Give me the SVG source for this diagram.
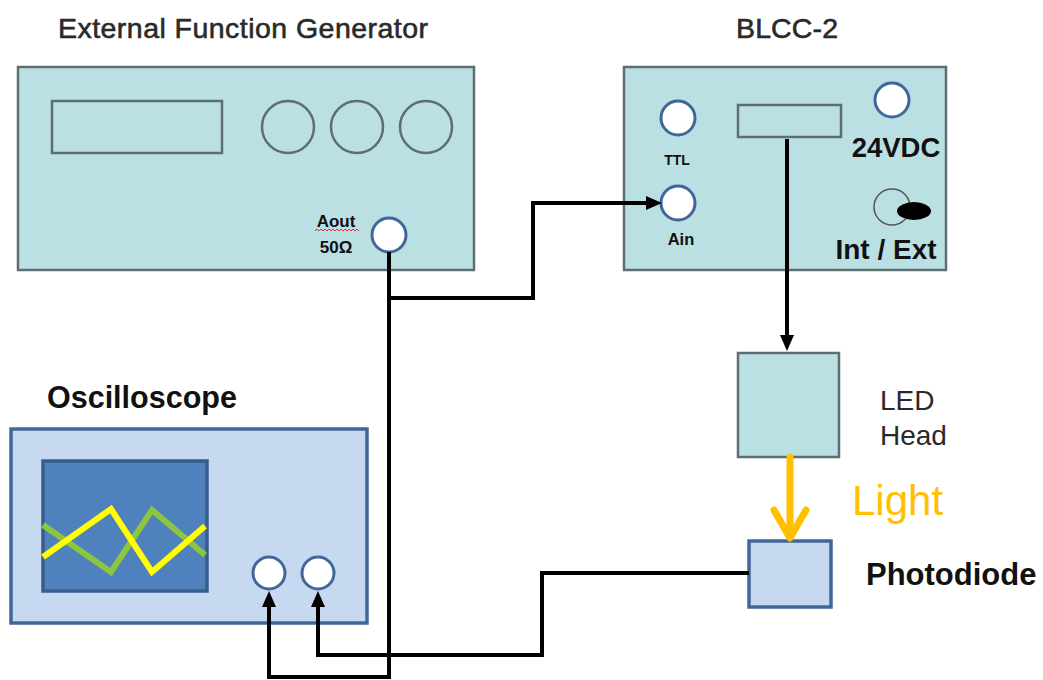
<svg xmlns="http://www.w3.org/2000/svg" width="1043" height="680" viewBox="0 0 1043 680">
<style>
.panel{fill:#BBE0E3;stroke:#5E6E70;stroke-width:2.5}
.knob{fill:none;stroke:#5E6E70;stroke-width:2.5}
.port{fill:#fff;stroke:#41679A;stroke-width:3}
.blue{fill:#C6D9F0;stroke:#41679A;stroke-width:3.5}
.wire{fill:none;stroke:#000;stroke-width:4;stroke-linejoin:miter}
.t{font-family:"Liberation Sans",Arial,sans-serif;fill:#2a2a2a}
.h{stroke:#2a2a2a;stroke-width:0.6}
.b{font-family:"Liberation Sans",Arial,sans-serif;font-weight:bold;fill:#111}
</style>
<defs>
<marker id="ah" viewBox="0 0 16 14" refX="6" refY="7" markerWidth="16" markerHeight="14" markerUnits="userSpaceOnUse" orient="auto">
<path d="M0,0 L16,7 L0,14 z" fill="#000"/>
</marker>
</defs>
<rect width="1043" height="680" fill="#fff"/>

<g id="function-generator">
<text class="t h" x="58" y="38" font-size="28.5" textLength="370">External Function Generator</text>
<rect class="panel" x="18" y="67" width="456" height="203"/>
<rect class="knob" x="52" y="101" width="170" height="52"/>
<circle class="knob" cx="288" cy="127" r="26"/>
<circle class="knob" cx="357" cy="127" r="26"/>
<circle class="knob" cx="426" cy="127" r="26"/>
<text class="b" x="336" y="227" font-size="17" text-anchor="middle">Aout</text>
<polyline points="315,231 317,229 319,231 321,229 323,231 325,229 327,231 329,229 331,231 333,229 335,231 337,229 339,231 341,229 343,231 345,229 347,231 349,229 351,231 353,229 355,231 357,229 359,231" fill="none" stroke="#E03030" stroke-width="1"/>
<text class="b" x="336" y="253" font-size="17" text-anchor="middle">50Ω</text>
<circle class="port" cx="389" cy="235" r="17"/>
</g>

<g id="blcc-2">
<text class="t h" x="736" y="38" font-size="28.5" textLength="102">BLCC-2</text>
<rect class="panel" x="624" y="67" width="322" height="203"/>
<circle class="port" cx="678" cy="118" r="17"/>
<text class="b" x="677" y="165" font-size="14" text-anchor="middle">TTL</text>
<circle class="port" cx="678" cy="203" r="17"/>
<text class="b" x="681" y="245" font-size="16.5" text-anchor="middle">Ain</text>
<rect class="knob" x="738" y="105" width="103" height="32" stroke-width="2"/>
<circle class="port" cx="892" cy="100" r="17"/>
<text class="b" x="896" y="157" font-size="27.5" text-anchor="middle">24VDC</text>
<circle cx="892" cy="207" r="18" fill="none" stroke="#555" stroke-width="1.5"/>
<ellipse cx="914" cy="211" rx="17" ry="9" fill="#000"/>
<text class="b" x="886" y="259" font-size="28" text-anchor="middle">Int / Ext</text>
</g>

<g id="led-head">
<rect class="panel" x="738" y="353" width="101" height="104"/>
<text class="t" x="880" y="410" font-size="28">LED</text>
<text class="t" x="880" y="445" font-size="28">Head</text>
</g>

<g id="photodiode">
<rect class="blue" x="749" y="541" width="82" height="66"/>
<text class="b" x="866" y="585" font-size="31">Photodiode</text>
</g>

<g id="oscilloscope">
<text class="b" x="47" y="408" font-size="30.5">Oscilloscope</text>
<rect class="blue" x="11" y="429" width="356" height="194"/>
<rect x="43" y="461" width="164" height="130" fill="#4F81BD" stroke="#385D8A" stroke-width="3.5"/>
<polyline points="43,525 111,572 152,510 205,555" fill="none" stroke="#8CC63F" stroke-width="6"/>
<polyline points="43,557 111,509 152,572 205,526" fill="none" stroke="#FFFF00" stroke-width="6"/>
<circle class="port" cx="269" cy="573" r="16"/>
<circle class="port" cx="318" cy="573" r="16"/>
</g>

<g id="connectors">
<path class="wire" d="M389,252 V298 H533 V203 H652" marker-end="url(#ah)"/>
<path class="wire" d="M389,298 V677 H269 V601" marker-end="url(#ah)"/>
<path class="wire" d="M749,573 H542 V655 H318 V601" marker-end="url(#ah)"/>
<path class="wire" d="M787,139 V341" marker-end="url(#ah)"/>
<path d="M790,457 V536 M774,510 L790,538 L806,510" fill="none" stroke="#FFC000" stroke-width="7" stroke-linecap="round" stroke-linejoin="round"/>
<text x="852" y="515" font-family="'Liberation Sans',Arial,sans-serif" font-size="42" fill="#FFC000">Light</text>
</g>
</svg>
